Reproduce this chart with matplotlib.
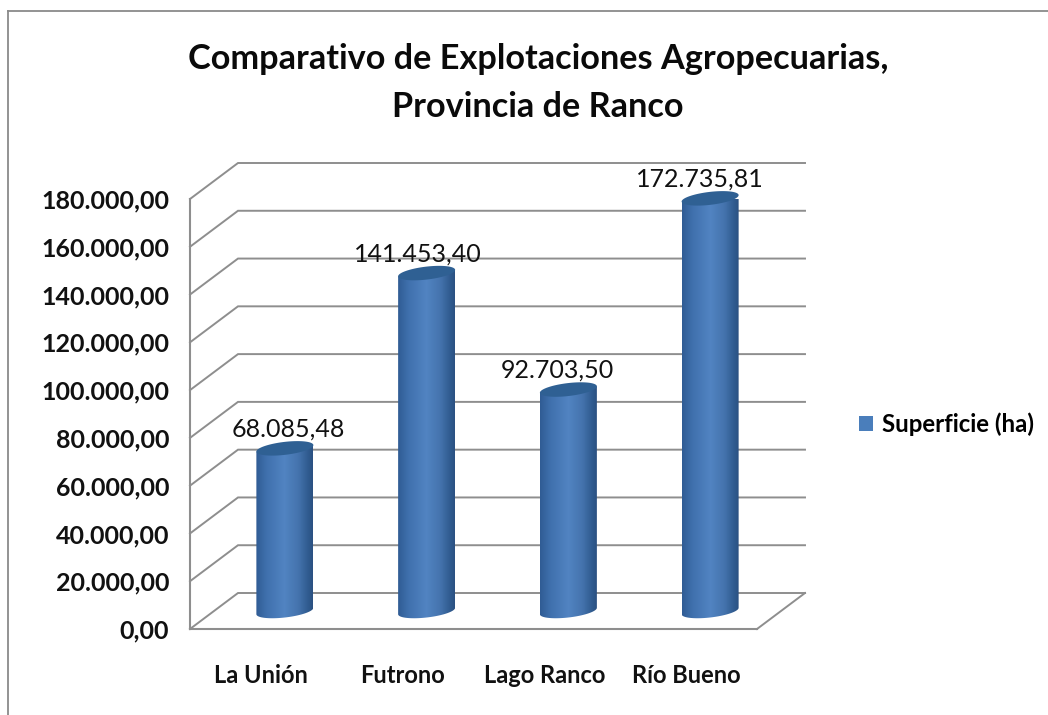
import numpy as np
import matplotlib
matplotlib.use("Agg")
import matplotlib.pyplot as plt
from matplotlib.colors import LinearSegmentedColormap
from matplotlib.patches import Polygon, Patch
from matplotlib.lines import Line2D

# Data
title = "Comparativo de Explotaciones Agropecuarias,\nProvincia de Ranco"
categories = ["La Unión", "Futrono", "Lago Ranco", "Río Bueno"]
series_name = "Superficie (ha)"
superficie = [68085.48, 141453.40, 92703.50, 172735.81]
y_ticks = [0, 20000, 40000, 60000, 80000, 100000, 120000, 140000, 160000, 180000]

def es_format(v):
    return f"{v:,.2f}".replace(",", "X").replace(".", ",").replace("X", ".")

W, H = 1048, 715
plt.rcParams["font.family"] = ["Lato", "DejaVu Sans"]
fig = plt.figure(figsize=(W / 100, H / 100), dpi=100, facecolor="white")

# front plane of the 3D box, pixels
L, R, B, T = 190, 757, 629, 199
ax = fig.add_axes([L / W, (H - B) / H, (R - L) / W, (B - T) / H])
ax.set_xlim(-0.5, 3.5)
ax.set_ylim(0, 180000)
ax.patch.set_visible(False)

px_x = (R - L) / 4           # pixels per category
px_y = (B - T) / 180000      # pixels per value unit
def dx(p): return p / px_x
def dy(p): return p / px_y

GRID = "#8e8e8e"
depth_x, depth_y = dx(48), dy(36)

for s in ("top", "right"):
    ax.spines[s].set_visible(False)
for s in ("left", "bottom"):
    ax.spines[s].set_color(GRID)
    ax.spines[s].set_linewidth(1.5)

ax.set_yticks(y_ticks)
ax.set_yticklabels([es_format(v) for v in y_ticks])
ax.set_xticks(range(len(categories)))
ax.set_xticklabels(categories)
ax.tick_params(axis="y", length=0, pad=15, labelsize=18, labelcolor="#111111")
ax.tick_params(axis="x", length=0, pad=25, labelsize=17, labelcolor="#111111")
for lab in ax.get_yticklabels() + ax.get_xticklabels():
    lab.set_fontweight("bold")

# walls and floor
x0, x1 = -0.5, 3.5
for v in y_ticks:
    ax.plot([x0, x0 + depth_x, x1 + depth_x], [v, v + depth_y, v + depth_y],
            color=GRID, lw=1.4, clip_on=False, zorder=1, solid_joinstyle="miter")
ax.plot([x1, x1 + depth_x], [0, depth_y], color=GRID, lw=1.4, clip_on=False, zorder=1)

# cylinders
shade = LinearSegmentedColormap.from_list(
    "cyl",
    [(0.0, "#305c94"), (0.18, "#3f70ad"), (0.5, "#5284c2"),
     (0.75, "#4473ad"), (0.92, "#305b8f"), (1.0, "#2b5182")])
grad = np.linspace(0, 1, 128).reshape(1, -1)

half_w, half_h, tilt = dx(28.5), dy(6.5), dy(3.2)
t = np.linspace(0, 2 * np.pi, 121)

def ellipse(cx, base):
    return cx + half_w * np.cos(t), base + half_h * np.sin(t) + tilt * np.cos(t)

for i, v in enumerate(superficie):
    cx = i + depth_x / 2
    base = depth_y / 2
    top = base + v
    tb = np.linspace(np.pi, 2 * np.pi, 60)
    bx = cx + half_w * np.cos(tb)
    by = base + half_h * np.sin(tb) + tilt * np.cos(tb)
    ux = [cx + half_w, cx - half_w]
    uy = [top + tilt, top - tilt]
    poly = Polygon(np.column_stack([np.r_[bx, ux], np.r_[by, uy]]), closed=True,
                   transform=ax.transData, facecolor="none", edgecolor="none")
    ax.add_patch(poly)
    im = ax.imshow(grad, cmap=shade, aspect="auto", zorder=3,
                   extent=[cx - half_w, cx + half_w, base - dy(12), top + dy(12)])
    im.set_clip_path(poly)
    ex, ey = ellipse(cx, top)
    ax.fill(ex, ey, color="#2f6093", zorder=4, clip_on=False, lw=0)

ax.set_xlim(-0.5, 3.5)
ax.set_ylim(0, 180000)

# data labels
label_shift = [3, -9, -11, -10]
for i, v in enumerate(superficie):
    ax.text(i + depth_x / 2 + dx(label_shift[i]), v + depth_y / 2 + dy(19), es_format(v),
            ha="center", va="center", fontsize=18, color="#111111", zorder=5, clip_on=False)

# legend
leg = fig.legend(handles=[Patch(facecolor="#4a7ebb", edgecolor="none", label=series_name)],
                 loc="center left", bbox_to_anchor=(837 / W, 1 - 424 / H), frameon=False,
                 handlelength=0.58, handleheight=0.58, handletextpad=0.38,
                 prop={"family": "Lato", "weight": "bold", "size": 17.3})

# title
fig.text(538 / W, 1 - 83 / H, title, ha="center", va="center", fontsize=24.7,
         fontweight="bold", color="#0a0a0a", linespacing=1.6)

# chart frame
for xs, ys in (([7.5, 7.5], [H, 11]), ([7.5, W], [11, 11])):
    fig.add_artist(Line2D(np.array(xs) / W, 1 - np.array(ys) / H, color="#8a8a8a", lw=1.3))

fig.savefig("out.png", dpi=100)
